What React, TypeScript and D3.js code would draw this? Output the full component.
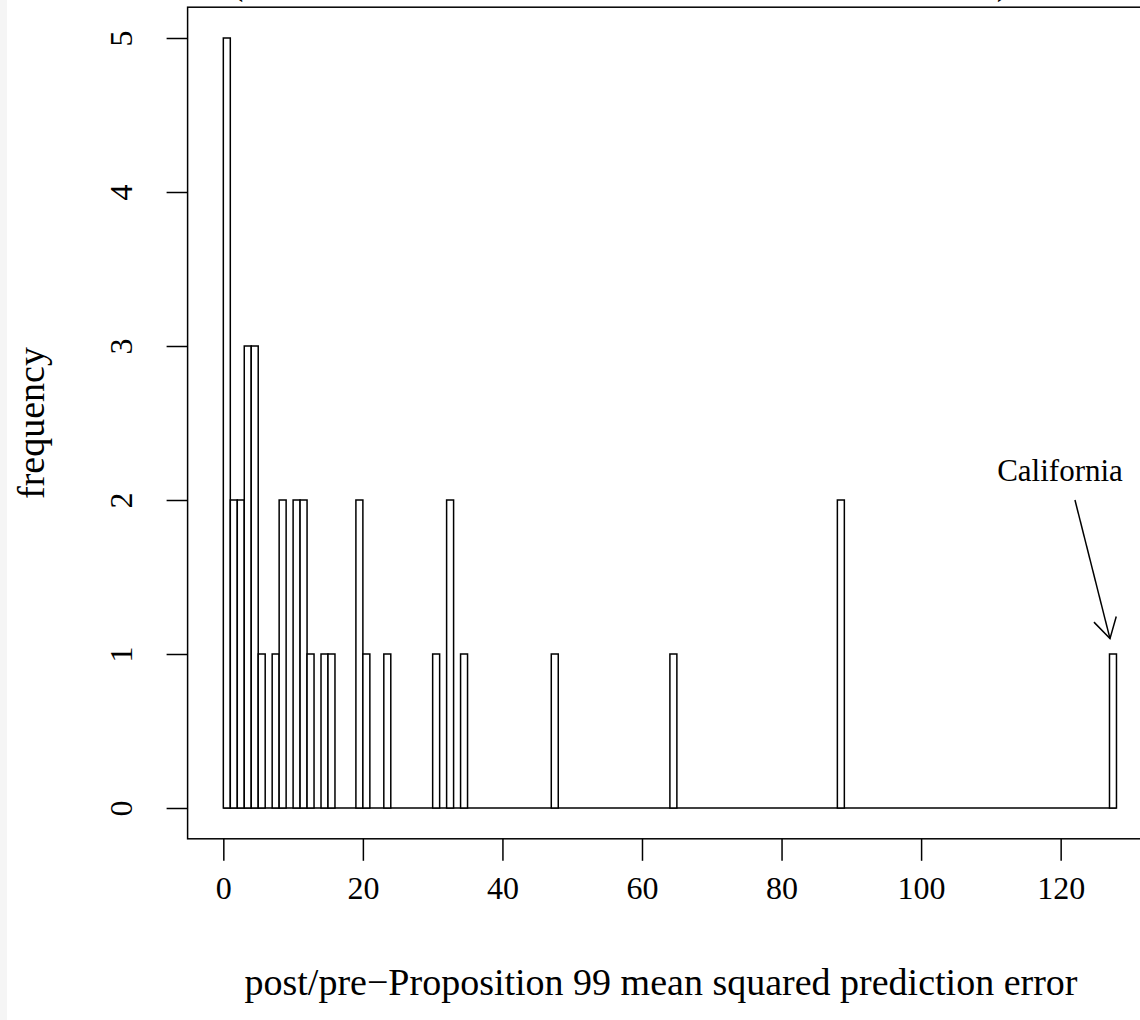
import React, { useEffect, useRef } from "react";
import * as d3 from "d3";

// ---- data (histogram, bins of width 1 on [0, 128]) ----
const binRange = [0, 128];
const binLeft = [0, 1, 2, 3, 4, 5, 7, 8, 10, 11, 12, 14, 15, 19, 20, 23, 30, 32, 34, 47, 64, 88, 127];
const binCounts = [5, 2, 2, 3, 3, 1, 1, 2, 2, 2, 1, 1, 1, 2, 1, 1, 1, 2, 1, 1, 1, 2, 1];
const binWidth = 1;
const xTicks = [0, 20, 40, 60, 80, 100, 120];
const yTicks = [0, 1, 2, 3, 4, 5];
const xLabel = "post/pre\u2212Proposition 99 mean squared prediction error";
const yLabel = "frequency";
const annotationText = "California";
const annotationFrom = [122.05, 2.0];
const annotationTo = [127.07, 1.1];

const W = 1140;
const H = 1020;
const FONT = "'Liberation Serif', 'Times New Roman', Times, serif";

export default function App() {
  const ref = useRef<SVGSVGElement | null>(null);

  useEffect(() => {
    const svg = d3.select(ref.current);
    svg.selectAll("*").remove();

    const xPad = 0.04 * (binRange[1] - binRange[0]);
    const yMax = d3.max(binCounts) as number;
    const yPad = 0.04 * yMax;
    const x = d3.scaleLinear().domain([binRange[0] - xPad, binRange[1] + xPad]).range([187.6, 1152.2]);
    const y = d3.scaleLinear().domain([-yPad, yMax + yPad]).range([838.8, 7.2]);

    svg.append("rect").attr("x", 0).attr("y", 0).attr("width", W).attr("height", H).attr("fill", "#ffffff");
    svg.append("rect").attr("x", 0).attr("y", 0).attr("width", 7).attr("height", H).attr("fill", "#f5f5f5");

    // clipped title fragments at the very top
    svg.append("text").attr("x", 237).attr("y", -6).attr("font-family", FONT).attr("font-size", 38)
      .attr("text-anchor", "middle").attr("fill", "#000").text("(");
    svg.append("text").attr("x", 1003).attr("y", -6).attr("font-family", FONT).attr("font-size", 38)
      .attr("text-anchor", "middle").attr("fill", "#000").text(")");

    // baseline of empty bins
    svg.append("line")
      .attr("x1", x(binRange[0])).attr("x2", x(binRange[1]))
      .attr("y1", y(0)).attr("y2", y(0))
      .attr("stroke", "#000").attr("stroke-width", 1.5);

    // bars
    svg.append("g").selectAll("rect")
      .data(binLeft.map((b, i) => ({ b, c: binCounts[i] })))
      .join("rect")
      .attr("x", (d) => x(d.b))
      .attr("width", (d) => x(d.b + binWidth) - x(d.b))
      .attr("y", (d) => y(d.c))
      .attr("height", (d) => y(0) - y(d.c))
      .attr("fill", "#ffffff")
      .attr("stroke", "#000")
      .attr("stroke-width", 1.5);

    // box
    svg.append("rect")
      .attr("x", x.range()[0]).attr("y", y.range()[1])
      .attr("width", x.range()[1] - x.range()[0])
      .attr("height", y.range()[0] - y.range()[1])
      .attr("fill", "none").attr("stroke", "#000").attr("stroke-width", 1.5);

    // x axis
    const gx = svg.append("g").attr("transform", `translate(0,${y.range()[0]})`)
      .call(d3.axisBottom(x).tickValues(xTicks).tickSize(22).tickPadding(15).tickFormat(d3.format("d")));
    gx.select(".domain").remove();
    gx.selectAll(".tick line").attr("stroke", "#000").attr("stroke-width", 1.5);
    gx.selectAll(".tick text").attr("font-family", FONT).attr("font-size", 32).attr("fill", "#000");

    // y axis
    const gy = svg.append("g").attr("transform", `translate(${x.range()[0]},0)`)
      .call(d3.axisLeft(y).tickValues(yTicks).tickSize(21).tickFormat(d3.format("d")));
    gy.select(".domain").remove();
    gy.selectAll(".tick line").attr("stroke", "#000").attr("stroke-width", 1.5);
    gy.selectAll(".tick text")
      .attr("font-family", FONT).attr("font-size", 32).attr("fill", "#000")
      .attr("x", null).attr("dy", null)
      .attr("text-anchor", "middle")
      .attr("transform", `translate(${121 - x.range()[0]},0) rotate(-90)`)
      .attr("dy", "0.35em");

    // axis titles
    svg.append("text")
      .attr("x", 661).attr("y", 995)
      .attr("text-anchor", "middle").attr("font-family", FONT).attr("font-size", 38).attr("fill", "#000")
      .text(xLabel);
    svg.append("text")
      .attr("transform", `translate(44,${(y(0) + y(5)) / 2}) rotate(-90)`)
      .attr("text-anchor", "middle").attr("font-family", FONT).attr("font-size", 38).attr("fill", "#000")
      .text(yLabel);

    // annotation
    svg.append("text")
      .attr("x", 1060).attr("y", 481)
      .attr("text-anchor", "middle").attr("font-family", FONT).attr("font-size", 31).attr("fill", "#000")
      .text(annotationText);
    const x0 = x(annotationFrom[0]), y0 = y(annotationFrom[1]);
    const x1 = x(annotationTo[0]), y1 = y(annotationTo[1]);
    svg.append("line").attr("x1", x0).attr("y1", y0).attr("x2", x1).attr("y2", y1)
      .attr("stroke", "#000").attr("stroke-width", 1.5);
    const ang = Math.atan2(y0 - y1, x0 - x1);
    const len = 23;
    const head = Math.PI / 6;
    const pts: [number, number][] = [
      [x1 + len * Math.cos(ang + head), y1 + len * Math.sin(ang + head)],
      [x1, y1],
      [x1 + len * Math.cos(ang - head), y1 + len * Math.sin(ang - head)],
    ];
    svg.append("path").attr("d", d3.line()(pts) as string)
      .attr("fill", "none").attr("stroke", "#000").attr("stroke-width", 1.5);
  }, []);

  return (
    <svg
      ref={ref}
      width={W}
      height={H}
      style={{ position: "absolute", left: 0, top: 0, display: "block" }}
    />
  );
}
